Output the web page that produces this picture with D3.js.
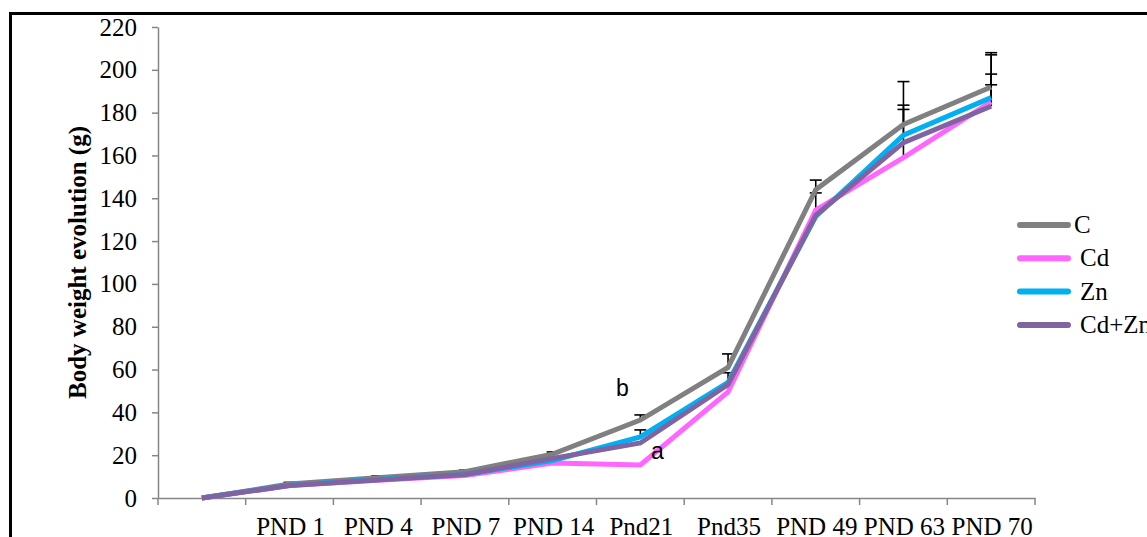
<!DOCTYPE html>
<html>
<head>
<meta charset="utf-8">
<script src="https://cdn.jsdelivr.net/npm/d3@7"></script>
<style>
  html, body { margin: 0; padding: 0; background: #fff; overflow: hidden; }
  svg { display: block; }
</style>
</head>
<body>
<svg id="chart" width="1147" height="537"></svg>
<script>
// ---- data ----
const categories = ["", "PND 1", "PND 4", "PND 7", "PND 14", "Pnd21", "Pnd35", "PND 49", "PND 63", "PND 70"];
const seriesNames = ["C", "Cd", "Zn", "Cd+Zn"];
const valuesC    = [0, 6.5, 9.5, 12.3, 20.5, 36.4, 61.0, 144.0, 174.5, 192.0];
const valuesCd   = [0, 5.8, 8.3, 10.5, 16.3, 15.4, 49.5, 134.5, 159.0, 185.0];
const valuesZn   = [0, 6.0, 8.6, 11.0, 17.5, 28.5, 54.0, 131.5, 169.5, 187.0];
const valuesCdZn = [0, 5.8, 8.4, 11.0, 18.5, 25.7, 53.0, 132.0, 166.0, 183.0];
const errC    = [0, 0.8, 0.8, 0.7, 1.0, 2.4, 6.3, 4.5, 20.0, 16.0];
const errCd   = [0, 0, 0, 0, 0, 0, 0, 8.0, 22.5, 13.0];
const errZn   = [0, 0, 0, 0, 0, 3.3, 4.5, 0, 14.0, 20.0];
const errCdZn = [0, 0, 0, 0, 0, 0, 0, 0, 0, 10.0];
const yTicks = [0, 20, 40, 60, 80, 100, 120, 140, 160, 180, 200, 220];
const yTitle = "Body weight evolution (g)";
const annotations = [{text: "b", cat: "Pnd21", value: 47.5, dx: -18}, {text: "a", cat: "Pnd21", value: 18, dx: 17}];

const series = [
  {name: "C",     values: valuesC,    err: errC,    color: "#808080"},
  {name: "Cd",    values: valuesCd,   err: errCd,   color: "#ff66ff"},
  {name: "Zn",    values: valuesZn,   err: errZn,   color: "#00b0f0"},
  {name: "Cd+Zn", values: valuesCdZn, err: errCdZn, color: "#8064a2"}
];

// ---- layout ----
const svg = d3.select("#chart");
const plot = {left: 158, right: 1035, top: 27, bottom: 498};

// frame
svg.append("rect")
  .attr("x", 10.5).attr("y", 13.5)
  .attr("width", 1200).attr("height", 600)
  .attr("fill", "none").attr("stroke", "#000").attr("stroke-width", 3);

const x = d3.scaleBand().domain(categories.map((c, i) => i)).range([plot.left, plot.right]);
const y = d3.scaleLinear().domain([0, 220]).range([plot.bottom, plot.top]);
const cx = i => x(i) + x.bandwidth() / 2;

const serif = "'Liberation Serif','Times New Roman',serif";

// y axis
const yAxis = svg.append("g").attr("transform", `translate(${plot.left},0)`)
  .call(d3.axisLeft(y).tickValues(yTicks).tickSize(6).tickPadding(15).tickSizeOuter(0));
yAxis.selectAll("path, line").attr("stroke", "#868686").attr("stroke-width", 1.5);
yAxis.selectAll("text").attr("font-family", serif).attr("font-size", 25).attr("fill", "#000");

// x axis
const xAxis = svg.append("g").attr("transform", `translate(0,${plot.bottom})`)
  .call(d3.axisBottom(x).tickSize(0).tickFormat(i => categories[i]).tickPadding(19));
xAxis.select("path").attr("stroke", "#868686").attr("stroke-width", 1.5);
xAxis.selectAll("text").attr("font-family", serif).attr("font-size", 25).attr("fill", "#000")
  .attr("dx", 1);
// tick marks at band boundaries
const bounds = categories.map((c, i) => x(i)).concat([plot.right]);
svg.append("g").selectAll("line").data(bounds).join("line")
  .attr("x1", d => d).attr("x2", d => d)
  .attr("y1", plot.bottom).attr("y2", plot.bottom + 7)
  .attr("stroke", "#868686").attr("stroke-width", 1.5);

// y title
svg.append("text")
  .attr("transform", `translate(86,${(plot.top + plot.bottom) / 2}) rotate(-90)`)
  .attr("text-anchor", "middle")
  .attr("font-family", serif).attr("font-weight", "bold").attr("font-size", 25)
  .text(yTitle);

// error bars (behind lines)
const eb = svg.append("g");
series.forEach(s => {
  s.values.forEach((v, i) => {
    if (!s.err[i]) return;
    const x0 = cx(i), y0 = y(v), y1 = y(v + s.err[i]);
    eb.append("line").attr("x1", x0).attr("x2", x0).attr("y1", y0).attr("y2", y1)
      .attr("stroke", "#000").attr("stroke-width", 1.6);
    eb.append("line").attr("x1", x0 - 6).attr("x2", x0 + 6).attr("y1", y1).attr("y2", y1)
      .attr("stroke", "#000").attr("stroke-width", 1.6);
  });
});

// lines
const line = d3.line().x((d, i) => cx(i)).y(d => y(d));
series.forEach(s => {
  svg.append("path").datum(s.values)
    .attr("d", line).attr("fill", "none")
    .attr("stroke", s.color).attr("stroke-width", 5);
});

// annotations
annotations.forEach(a => {
  const i = categories.indexOf(a.cat);
  svg.append("text")
    .attr("x", cx(i) + a.dx).attr("y", y(a.value))
    .attr("text-anchor", "middle")
    .attr("font-family", "'Liberation Sans',Arial,sans-serif").attr("font-size", 23)
    .text(a.text);
});

// legend
const leg = svg.append("g");
series.forEach((s, k) => {
  const ly = 225 + k * 33.3;
  leg.append("line").attr("x1", 1020).attr("x2", 1068).attr("y1", ly).attr("y2", ly)
    .attr("stroke", s.color).attr("stroke-width", 6).attr("stroke-linecap", "round");
  leg.append("text").attr("x", k === 0 ? 1074 : 1080).attr("y", ly + 8)
    .attr("font-family", serif).attr("font-size", 25).text(s.name);
});
</script>
</body>
</html>
